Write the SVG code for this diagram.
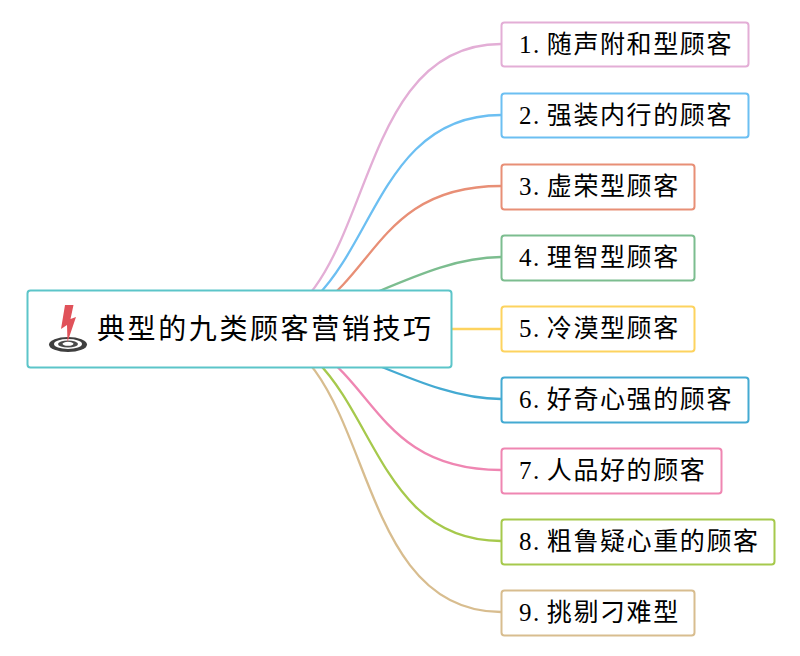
<svg xmlns="http://www.w3.org/2000/svg" width="800" height="656" viewBox="0 0 800 656">
<style>
.c{fill:none;stroke-width:2.3}
.n{fill:#fff;stroke-width:2}
text{font-family:"Liberation Serif","Noto Sans CJK SC",serif;font-size:25px;fill:#000;letter-spacing:1.6px;word-spacing:-2px}
</style>
<rect width="800" height="656" fill="#fff"/>
<g id="connectors">
<path class="c" stroke="#e3aed6" d="M239 329C380 329 340 44 501 44"/>
<path class="c" stroke="#6cbff2" d="M239 329C378 329 352 115 501 115"/>
<path class="c" stroke="#e88f76" d="M239 329C380 329 350 186 501 186"/>
<path class="c" stroke="#7cbd8f" d="M239 329C335 329 417 257 501 257"/>
<path class="c" stroke="#fdd35f" d="M239 329H501"/>
<path class="c" stroke="#44aad2" d="M239 329C335 329 417 399 501 399"/>
<path class="c" stroke="#ef86b2" d="M239 329C380 329 350 470 501 470"/>
<path class="c" stroke="#a6c94c" d="M239 329C378 329 352 541 501 541"/>
<path class="c" stroke="#d8bd8f" d="M239 329C380 329 340 612 501 612"/>
</g>
<g id="root">
<rect class="n" x="27.500" y="290.500" width="424" height="77" rx="3" stroke="#5cc5c9"/>
<g id="icon">
<ellipse cx="68" cy="344.500" rx="19" ry="7.500" fill="#3f3f3f"/>
<ellipse cx="68" cy="344" rx="14" ry="5" fill="#fff"/>
<ellipse cx="68" cy="344" rx="10" ry="3.600" fill="#4a4a4a"/>
<ellipse cx="68" cy="343.800" rx="5.500" ry="2" fill="#fff"/>
<path d="M65 305H73.500L70.500 319L76 317L67.500 342L67 325L61 329Z" fill="#e0525a"/>
</g>
<text x="97" y="339" style="font-size:28px;letter-spacing:2.600px">典型的九类顾客营销技巧</text>
</g>
<g id="n1"><rect class="n" x="501.500" y="22.500" width="247" height="44" rx="3" stroke="#e3aed6"/><text x="519" y="53">1. 随声附和型顾客</text></g>
<g id="n2"><rect class="n" x="501.500" y="93.500" width="247" height="44" rx="3" stroke="#6cbff2"/><text x="519" y="124">2. 强装内行的顾客</text></g>
<g id="n3"><rect class="n" x="501.500" y="164.500" width="193" height="45" rx="3" stroke="#e88f76"/><text x="519" y="195">3. 虚荣型顾客</text></g>
<g id="n4"><rect class="n" x="501.500" y="235.500" width="193" height="45" rx="3" stroke="#7cbd8f"/><text x="519" y="266">4. 理智型顾客</text></g>
<g id="n5"><rect class="n" x="501.500" y="306.500" width="193" height="45" rx="3" stroke="#fdd35f"/><text x="519" y="337">5. 冷漠型顾客</text></g>
<g id="n6"><rect class="n" x="501.500" y="377.500" width="247" height="45" rx="3" stroke="#44aad2"/><text x="519" y="408">6. 好奇心强的顾客</text></g>
<g id="n7"><rect class="n" x="501.500" y="448.500" width="220" height="45" rx="3" stroke="#ef86b2"/><text x="519" y="479">7. 人品好的顾客</text></g>
<g id="n8"><rect class="n" x="501.500" y="519.500" width="273" height="45" rx="3" stroke="#a6c94c"/><text x="519" y="550">8. 粗鲁疑心重的顾客</text></g>
<g id="n9"><rect class="n" x="501.500" y="590.500" width="193" height="45" rx="3" stroke="#d8bd8f"/><text x="519" y="621">9. 挑剔刁难型</text></g>
</svg>
